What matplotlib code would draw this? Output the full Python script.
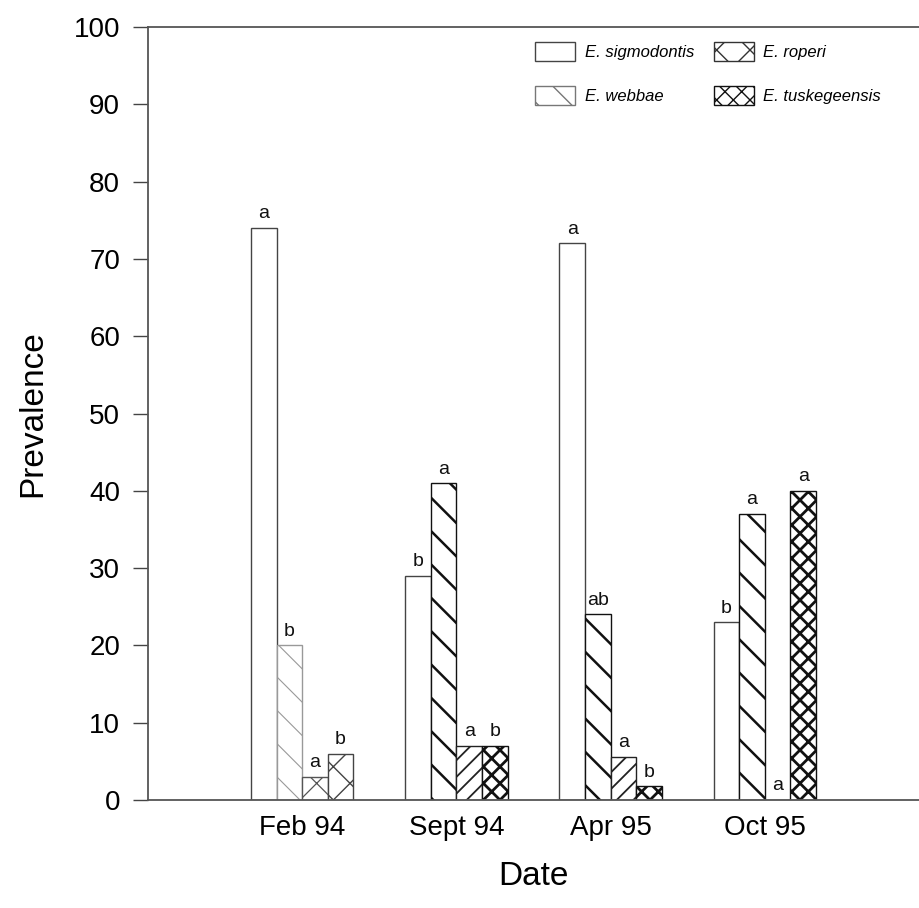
import numpy as np
import matplotlib
matplotlib.use('Agg')
import matplotlib.pyplot as plt
from matplotlib.patches import Patch

plt.rcParams['font.family'] = ['Liberation Sans', 'DejaVu Sans']

## Data
dates = ['Feb 94', 'Sept 94', 'Apr 95', 'Oct 95']
species = ['E. sigmodontis', 'E. webbae', 'E. roperi', 'E. tuskegeensis']

sigmodontis = [74, 29, 72, 23]
webbae = [20, 41, 24, 37]
roperi = [3, 7, 5.6, 0]
tuskegeensis = [6, 7, 1.8, 40]

letters_sig = ['a', 'b', 'a', 'b']
letters_web = ['b', 'a', 'ab', 'a']
letters_rop = ['a', 'a', 'a', 'a']
letters_tus = ['b', 'b', 'b', 'a']

# Figure
fig = plt.figure(figsize=(9.2, 9.08), dpi=100)
ax = fig.add_axes([148 / 920, 108 / 908, 771 / 920, 773 / 908])

x = np.arange(1, len(dates) + 1)
w = 0.166
offsets = [-1.5 * w, -0.5 * w, 0.5 * w, 1.5 * w]
series = [sigmodontis, webbae, roperi, tuskegeensis]
letters = [letters_sig, letters_web, letters_rop, letters_tus]

# hatch / colour per bar (scan shows lighter hatching in Feb 94)
hatches = [
    ['', '', '', ''],
    ['\\', '\\', '\\', '\\'],
    ['x', '//', '//', '//'],
    ['x', 'xx', 'xx', 'xx'],
]
edgecols = [
    ['#444444'] * 4,
    ['#999999', '#111111', '#111111', '#111111'],
    ['#555555', '#222222', '#222222', '#222222'],
    ['#444444', '#111111', '#111111', '#111111'],
]
hatch_lw = [
    [1.0] * 4,
    [0.8, 1.8, 1.8, 1.8],
    [0.9, 1.3, 1.3, 1.3],
    [1.0, 2.0, 2.0, 2.0],
]

for s in range(4):
    for i in range(4):
        val = series[s][i]
        b = ax.bar(x[i] + offsets[s], val, width=w, color='white',
                   edgecolor=edgecols[s][i], hatch=hatches[s][i], linewidth=1.0)
        for p in b.patches:
            try:
                p.set_hatch_linewidth(hatch_lw[s][i])
            except AttributeError:
                pass
        ax.annotate(letters[s][i], (x[i] + offsets[s], val), xytext=(0, 4),
                    textcoords='offset points', ha='center', va='bottom',
                    fontsize=14, color='#111111')

ax.set_xlim(0, 5)
ax.set_ylim(0, 100)
ax.set_yticks(np.arange(0, 101, 10))
ax.set_xticks(x)
ax.set_xticklabels(dates)
ax.tick_params(axis='y', direction='out', length=11, width=1.0, pad=9,
               labelsize=20, color='#444444')
ax.tick_params(axis='x', length=0, pad=11, labelsize=20)

for sp in ['left', 'bottom', 'top']:
    ax.spines[sp].set_color('#555555')
    ax.spines[sp].set_linewidth(1.3)
ax.spines['right'].set_visible(False)

ax.set_ylabel('Prevalence', fontsize=24, labelpad=18)
ax.set_xlabel('Date', fontsize=24, labelpad=14)

# legend
handles = [
    Patch(facecolor='white', edgecolor='#444444', hatch=''),
    Patch(facecolor='white', edgecolor='#777777', hatch='\\'),
    Patch(facecolor='white', edgecolor='#333333', hatch='x'),
    Patch(facecolor='white', edgecolor='#111111', hatch='xx'),
]
ax.legend(handles, species, ncol=2, loc='upper left', bbox_to_anchor=(0.483, 1.0),
          frameon=False, prop={'style': 'italic', 'size': 12},
          handlelength=2.4, handleheight=1.38, columnspacing=1.2, labelspacing=1.5,
          handletextpad=0.55)

plt.savefig('out.png', dpi=100)
